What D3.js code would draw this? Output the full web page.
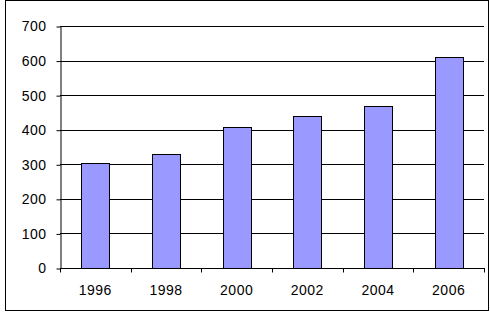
<!doctype html>
<html>
<head>
<style type="text/css">
body { margin: 0; background: #fff; }
svg { display: block; }
text { font-family: "Liberation Sans", Arial, sans-serif; font-size: 14px; letter-spacing: 0.5px; fill: #000; }
</style>
<script src="https://cdnjs.cloudflare.com/ajax/libs/d3/7.8.5/d3.min.js"></script>
</head>
<body>
<script type="text/javascript">
// chart data
var years = ["1996", "1998", "2000", "2002", "2004", "2006"];
var values = [304, 330, 408, 440, 468, 610];
var yTicks = [0, 100, 200, 300, 400, 500, 600, 700];

var width = 490, height = 316;
var plotLeft = 60, plotRight = 484, plotTop = 26, plotBottom = 268;

var svg = d3.select("body").append("svg")
	.attr("width", width)
	.attr("height", height);

// outer frame
svg.append("rect")
	.attr("x", 5.5).attr("y", 0.5)
	.attr("width", 483).attr("height", 310)
	.style("fill", "none").style("stroke", "#000");

var x = d3.scaleBand().domain(years).range([plotLeft, plotRight]).paddingInner(0.6).paddingOuter(0.3);
var xb = d3.scaleBand().domain(years).range([plotLeft, plotRight]);
var y = d3.scaleLinear().domain([0, 700]).range([plotBottom, plotTop]);

// gridlines
svg.append("g").selectAll("line")
	.data(yTicks.slice(1))
	.enter().append("line")
	.attr("x1", plotLeft).attr("x2", plotRight)
	.attr("y1", function(d) { return Math.round(y(d)) + 0.5; })
	.attr("y2", function(d) { return Math.round(y(d)) + 0.5; })
	.style("stroke", "#000");

// bars
svg.append("g").selectAll("rect")
	.data(values)
	.enter().append("rect")
	.attr("x", function(d, i) { return Math.round(x(years[i])) + 0.5; })
	.attr("y", function(d) { return Math.round(y(d)) + 0.5; })
	.attr("width", Math.round(x.bandwidth()))
	.attr("height", function(d) { return Math.round(y(0)) - Math.round(y(d)); })
	.style("fill", "#9999ff")
	.style("stroke", "#000");

// y axis
var yAxis = svg.append("g")
	.attr("transform", "translate(" + (plotLeft + 0.5) + ",0.5)")
	.call(d3.axisLeft(y).tickValues(yTicks).tickSize(4).tickPadding(10).tickSizeOuter(0));

// x axis, ticks at category boundaries
var xAxis = svg.append("g")
	.attr("transform", "translate(0," + (Math.round(y(0)) + 0.5) + ")");
xAxis.append("line")
	.attr("x1", plotLeft).attr("x2", plotRight + 1)
	.style("stroke", "#000");
xAxis.selectAll(".tk")
	.data(years.concat(["end"]))
	.enter().append("line")
	.attr("x1", function(d, i) { return Math.round(plotLeft + i * xb.step()) + 0.5; })
	.attr("x2", function(d, i) { return Math.round(plotLeft + i * xb.step()) + 0.5; })
	.attr("y1", 0).attr("y2", 4)
	.style("stroke", "#000");
xAxis.selectAll("text")
	.data(years)
	.enter().append("text")
	.attr("x", function(d) { return xb(d) + xb.step() / 2; })
	.attr("y", 26)
	.attr("text-anchor", "middle")
	.text(function(d) { return d; });

svg.selectAll(".domain, .tick line").style("stroke", "#000");
yAxis.selectAll("text").style("font-size", "14px").style("font-family", "'Liberation Sans', Arial, sans-serif");
</script>
</body>
</html>
